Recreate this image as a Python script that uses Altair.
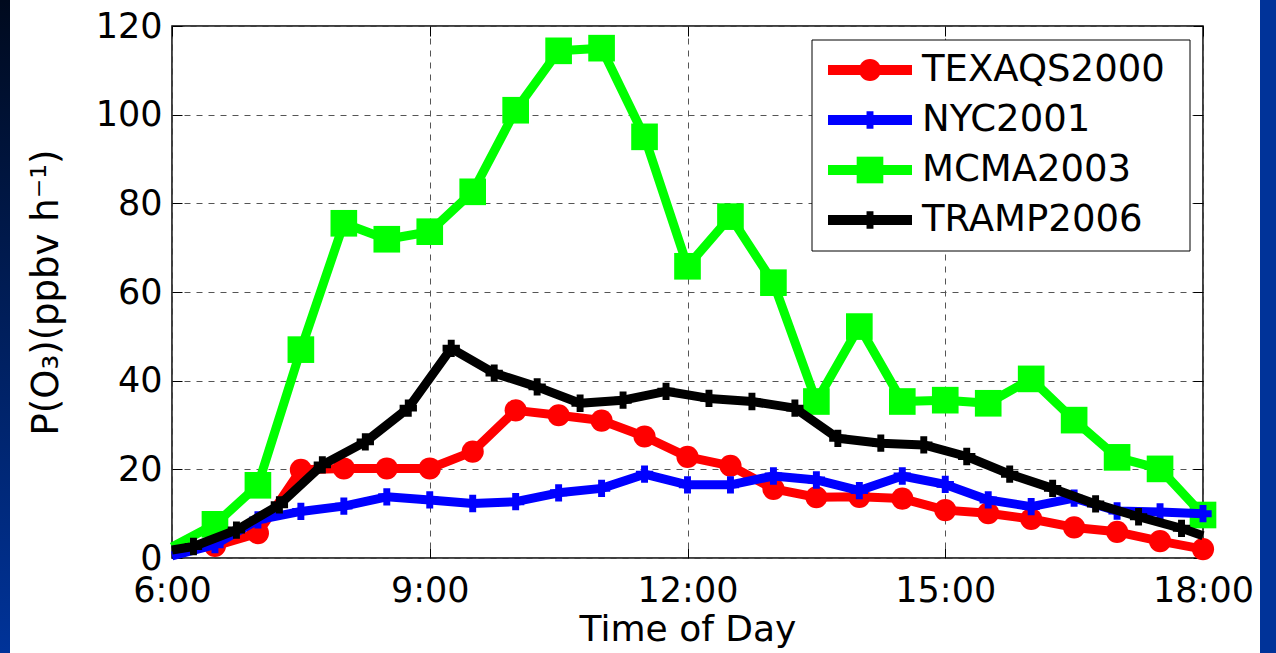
import altair as alt
import pandas as pd

# ---- series (hours of day, P(O3) in ppbv/h) ----
series_names = ["TEXAQS2000", "NYC2001", "MCMA2003", "TRAMP2006"]
series_colors = ["#ff0000", "#0000ff", "#00ff00", "#000000"]

texaqs_hours = [6.5, 7.0, 7.5, 8.0, 8.5, 9.0, 9.5, 10.0, 10.5, 11.0, 11.5, 12.0,
                12.5, 13.0, 13.5, 14.0, 14.5, 15.0, 15.5, 16.0, 16.5, 17.0, 17.5, 18.0]
texaqs_values = [2.7, 5.6, 19.9, 20.2, 20.2, 20.2, 24.0, 33.3, 32.2, 31.0, 27.4, 22.8,
                 20.8, 15.6, 13.7, 13.8, 13.4, 10.8, 10.1, 8.8, 6.9, 5.9, 3.8, 2.0]

nyc_hours = [6.0, 6.5, 7.0, 7.5, 8.0, 8.5, 9.0, 9.5, 10.0, 10.5, 11.0, 11.5, 12.0,
             12.5, 13.0, 13.5, 14.0, 14.5, 15.0, 15.5, 16.0, 16.5, 17.0, 17.5, 18.0]
nyc_values = [0.5, 3.0, 8.6, 10.5, 11.7, 13.8, 13.1, 12.3, 12.7, 14.7, 15.7, 18.9, 16.5,
              16.5, 18.5, 17.6, 15.2, 18.5, 16.6, 13.1, 11.6, 13.5, 10.6, 10.4, 10.0]

mcma_hours = [6.0, 6.5, 7.0, 7.5, 8.0, 8.5, 9.0, 9.5, 10.0, 10.5, 11.0, 11.5, 12.0,
              12.5, 13.0, 13.5, 14.0, 14.5, 15.0, 15.5, 16.0, 16.5, 17.0, 17.5, 18.0]
mcma_values = [2.5, 7.6, 16.4, 47.0, 75.5, 71.9, 73.6, 82.6, 101.0, 114.4, 115.0, 95.0, 65.8,
               77.0, 62.1, 35.3, 52.2, 35.3, 35.6, 34.9, 40.4, 31.1, 22.7, 20.1, 9.7]

tramp_hours = [6.0, 6.25, 6.75, 7.25, 7.75, 8.25, 8.75, 9.25, 9.75, 10.25, 10.75, 11.25,
               11.75, 12.25, 12.75, 13.25, 13.75, 14.25, 14.75, 15.25, 15.75, 16.25,
               16.75, 17.25, 17.75, 18.0]
tramp_values = [1.8, 2.6, 6.3, 12.0, 21.0, 26.2, 33.8, 47.3, 41.7, 38.6, 34.9, 35.6,
                37.6, 36.0, 35.3, 33.8, 27.0, 25.9, 25.5, 22.9, 18.9, 15.7,
                12.2, 9.3, 6.7, 5.0]

x_ticks = [6, 9, 12, 15, 18]
y_ticks = [0, 20, 40, 60, 80, 100, 120]

FONT = "DejaVu Sans"

rows = []
for name, hrs, vals in [("TEXAQS2000", texaqs_hours, texaqs_values),
                        ("NYC2001", nyc_hours, nyc_values),
                        ("MCMA2003", mcma_hours, mcma_values),
                        ("TRAMP2006", tramp_hours, tramp_values)]:
    for h, v in zip(hrs, vals):
        # end anchors at the axis limits carry the line only, no marker
        edge = (h == 6.0) or (name == "TRAMP2006" and h == 18.0)
        rows.append({"series": name, "hour": h, "value": v, "marker": not edge})
df = pd.DataFrame(rows)

x_scale = alt.Scale(domain=[6, 18], nice=False, zero=False)
y_scale = alt.Scale(domain=[0, 120], nice=False, zero=True)

grid_style = dict(grid=True, gridColor="#555555", gridDash=[6, 6], gridWidth=1,
                  ticks=False, labels=False, domain=False, title=None)
tick_style = dict(grid=False, domain=False, offset=-10, tickSize=10,
                  tickColor="black", tickWidth=1)

axes = {
    "grid": (alt.Axis(orient="bottom", values=x_ticks, **grid_style),
             alt.Axis(orient="left", values=y_ticks, **grid_style)),
    "main": (alt.Axis(orient="bottom", values=x_ticks, labelExpr="datum.value + ':00'",
                      labelFont=FONT, labelFontSize=35, labelColor="black",
                      labelPadding=15, labelFlush=False, labelOverlap=False,
                      title="Time of Day", titleFont=FONT, titleFontSize=36,
                      titleFontWeight="normal", titleColor="black", titlePadding=4,
                      **tick_style),
             alt.Axis(orient="left", values=y_ticks, labelFont=FONT, labelFontSize=35,
                      labelColor="black", labelPadding=10, labelFlush=False,
                      labelOverlap=False,
                      title="P(O\u2083)(ppbv h\u207b\u00b9)", titleFont=FONT,
                      titleFontSize=37, titleFontWeight="normal", titleColor="black",
                      titlePadding=30, **tick_style)),
    "mirror": (alt.Axis(orient="top", values=x_ticks, labels=False, title=None, **tick_style),
               alt.Axis(orient="right", values=y_ticks, labels=False, title=None, **tick_style)),
}

marker_style = {
    "TEXAQS2000": dict(shape="circle", size=490),
    "NYC2001": dict(shape="cross", size=300),
    "MCMA2003": dict(shape="square", size=710),
    "TRAMP2006": dict(shape="cross", size=300),
}
color_of = dict(zip(series_names, series_colors))

draw_order = ["TEXAQS2000", "MCMA2003", "NYC2001", "TRAMP2006"]
axis_keys = ["grid", "main", "mirror"]

layers = []
k = 0
for name in draw_order:
    sub = df[df.series == name]
    for kind in ("line", "point"):
        if k < len(axis_keys):
            ax_x, ax_y = axes[axis_keys[k]]
        else:
            ax_x, ax_y = None, None
        k += 1
        x_enc = alt.X("hour:Q", scale=x_scale, axis=ax_x)
        y_enc = alt.Y("value:Q", scale=y_scale, axis=ax_y)
        if kind == "line":
            lyr = alt.Chart(sub).mark_line(
                color=color_of[name], strokeWidth=9, strokeCap="butt", strokeJoin="round"
            ).encode(x=x_enc, y=y_enc, order="hour:Q")
        else:
            lyr = alt.Chart(sub[sub.marker]).mark_point(
                filled=True, opacity=1, color=color_of[name], strokeWidth=0,
                **marker_style[name]
            ).encode(x=x_enc, y=y_enc)
        layers.append(lyr)

plot = alt.layer(*layers).resolve_axis(x="independent", y="independent")

# ---- legend box ----
legend_df = pd.DataFrame({"series": series_names})
legend_y = alt.Scale(type="point", domain=series_names, range=[44, 194], padding=0)
box = alt.Chart(pd.DataFrame({"k": [0]})).mark_rect(
    fill="white", stroke="black", strokeWidth=1
).encode(x=alt.value(640), x2=alt.value(1018), y=alt.value(14), y2=alt.value(225))
legend_layers = [box]
for name in series_names:
    sub = legend_df[legend_df.series == name]
    ly = alt.Y("series:N", scale=legend_y, axis=None)
    legend_layers.append(alt.Chart(sub).mark_rule(
        color=color_of[name], strokeWidth=10, strokeCap="butt"
    ).encode(x=alt.value(656), x2=alt.value(740), y=ly))
    legend_layers.append(alt.Chart(sub).mark_point(
        filled=True, opacity=1, color=color_of[name], strokeWidth=0, **marker_style[name]
    ).encode(x=alt.value(698), y=ly))
    legend_layers.append(alt.Chart(sub).mark_text(
        align="left", baseline="middle", font=FONT, fontSize=37, color="black"
    ).encode(x=alt.value(750), y=ly, text="series:N"))
legend = alt.layer(*legend_layers)

# ---- slide side bands ----
band_df = pd.DataFrame({"k": [0]})
left_band = alt.Chart(band_df).mark_rect(
    color=alt.Gradient(gradient="linear",
                       stops=[alt.GradientStop(color="#000a1e", offset=0),
                              alt.GradientStop(color="#003399", offset=1)],
                       x1=0, x2=0, y1=0, y2=1)
).encode(x=alt.value(-172), x2=alt.value(-162), y=alt.value(-26), y2=alt.value(627))
right_band = alt.Chart(band_df).mark_rect(color="#003399").encode(
    x=alt.value(1088), x2=alt.value(1104), y=alt.value(-26), y2=alt.value(627))

chart = alt.layer(left_band, right_band, plot, legend).resolve_scale(
    y="independent", x="independent"
).properties(
    width=1031, height=532,
    padding={"left": 172, "top": 26, "right": 73, "bottom": 95},
    autosize=alt.AutoSizeParams(type="none"),
    background="white",
).configure_view(stroke="black", strokeWidth=1.5)

chart.save("out.html", embed_options={"renderer": "svg", "actions": False})
